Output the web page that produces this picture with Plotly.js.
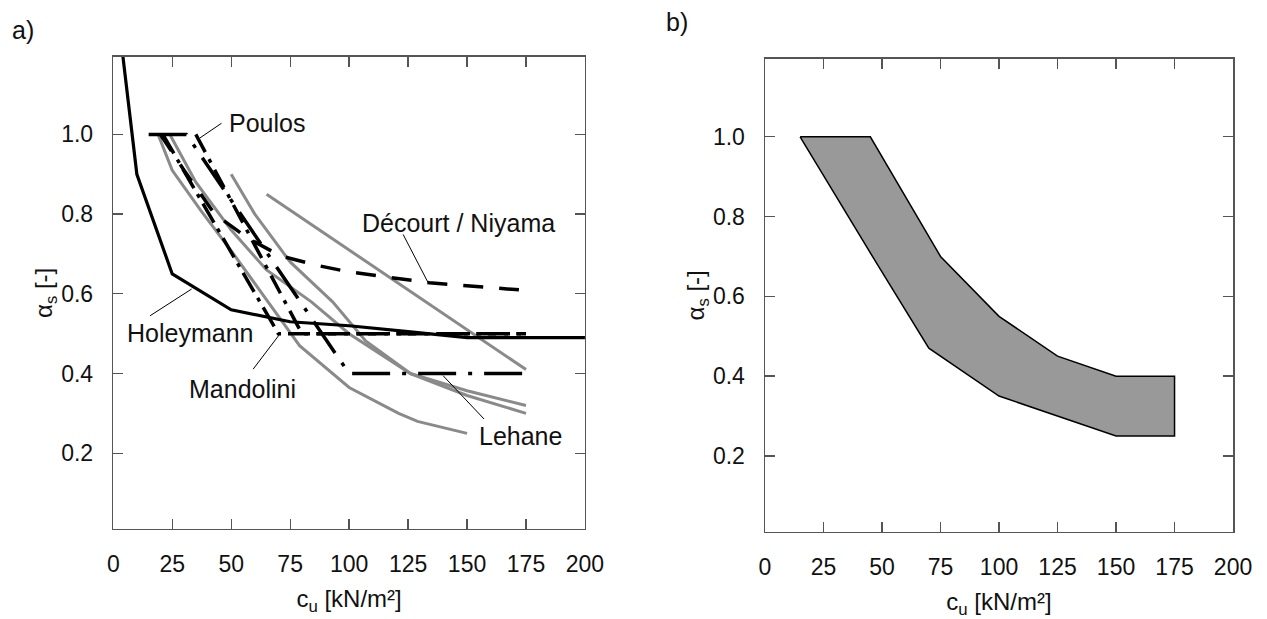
<!DOCTYPE html>
<html>
<head>
<meta charset="utf-8">
<script src="https://cdn.plot.ly/plotly-3.0.1.min.js"></script>
<style>
html,body{margin:0;padding:0;background:#fff;}
#chart{width:1267px;height:619px;}
</style>
</head>
<body>
<div id="chart"></div>
<script>
// ---------- Data (panel a) ----------
const holeymannX = [4, 10, 25, 50, 75, 100, 125, 150, 200];
const holeymannY = [1.2, 0.9, 0.65, 0.56, 0.53, 0.52, 0.505, 0.49, 0.49];

const decourtX = [20, 30, 43, 57, 71, 86, 100, 134, 172];
const decourtY = [1.0, 0.91, 0.80, 0.74, 0.695, 0.672, 0.655, 0.628, 0.61];

const mandoliniX = [21, 70, 175];
const mandoliniY = [1.0, 0.5, 0.5];

const poulosX = [35, 80, 175];
const poulosY = [1.0, 0.5, 0.5];

const lehaneX = [15, 31, 100, 175];
const lehaneY = [1.0, 1.0, 0.4, 0.4];

const gray1X = [19, 25, 37, 51, 65, 79, 100, 121, 129, 143, 150];
const gray1Y = [1.0, 0.91, 0.81, 0.70, 0.585, 0.47, 0.365, 0.30, 0.28, 0.26, 0.25];

const gray2X = [24, 35, 50, 65, 84, 100, 126, 150, 175];
const gray2Y = [1.0, 0.88, 0.76, 0.66, 0.58, 0.50, 0.40, 0.357, 0.32];

const gray3X = [50, 60, 75, 93, 107, 126, 150, 175];
const gray3Y = [0.9, 0.8, 0.68, 0.58, 0.482, 0.40, 0.345, 0.30];

const gray4X = [65, 175];
const gray4Y = [0.85, 0.41];

// ---------- Data (panel b): recommended band ----------
const bandUpperX = [15, 45, 75, 100, 125, 150, 175];
const bandUpperY = [1.0, 1.0, 0.70, 0.55, 0.45, 0.40, 0.40];
const bandLowerX = [15, 48, 70, 100, 125, 150, 175];
const bandLowerY = [1.0, 0.68, 0.47, 0.35, 0.30, 0.25, 0.25];

// ---------- Tick labels ----------
const xTickVals = [0, 25, 50, 75, 100, 125, 150, 175, 200];
const yTickVals = [0.2, 0.4, 0.6, 0.8, 1.0];
const yTickText = ['0.2', '0.4', '0.6', '0.8', '1.0'];

const FONT = 'Liberation Sans, Arial, sans-serif';
const GRAY = '#8a8a8a';

function line(x, y, color, width, dash, xa, ya, name) {
  return {x: x, y: y, type: 'scatter', mode: 'lines', name: name,
          xaxis: xa, yaxis: ya,
          line: {color: color, width: width, dash: dash}, hoverinfo: 'skip'};
}

const traces = [
  line(gray1X, gray1Y, GRAY, 3, 'solid', 'x', 'y', 'g1'),
  line(gray2X, gray2Y, GRAY, 3, 'solid', 'x', 'y', 'g2'),
  line(gray3X, gray3Y, GRAY, 3, 'solid', 'x', 'y', 'g3'),
  line(gray4X, gray4Y, GRAY, 3, 'solid', 'x', 'y', 'g4'),
  line(holeymannX, holeymannY, '#000', 3.2, 'solid', 'x', 'y', 'Holeymann'),
  line(decourtX, decourtY, '#000', 3.5, '20px,16px', 'x', 'y', 'Décourt / Niyama'),
  line(mandoliniX, mandoliniY, '#000', 3.5, '22px,7px,4px,7px', 'x', 'y', 'Mandolini'),
  line(poulosX, poulosY, '#000', 3.5, '20px,8px,4px,8px', 'x', 'y', 'Poulos'),
  line(lehaneX, lehaneY, '#000', 3.5, '38px,12px,4px,12px', 'x', 'y', 'Lehane'),
  {
    x: bandUpperX.concat(bandLowerX.slice().reverse()),
    y: bandUpperY.concat(bandLowerY.slice().reverse()),
    type: 'scatter', mode: 'lines', fill: 'toself', fillcolor: '#999999',
    line: {color: '#000', width: 1.5}, xaxis: 'x2', yaxis: 'y2', hoverinfo: 'skip'
  }
];

function xAxis(domain, anchor) {
  return {
    domain: domain, anchor: anchor, range: [0, 200],
    tickvals: xTickVals, ticks: 'inside', ticklen: 10, tickwidth: 1.3,
    tickcolor: '#555', showline: true, linecolor: '#555', linewidth: 1.5,
    mirror: 'allticks', showgrid: false, zeroline: false,
    tickfont: {family: FONT, size: 23, color: '#111'},
    ticklabelstandoff: 14,
    title: {text: 'c<sub>u</sub> [kN/m²]', font: {family: FONT, size: 24, color: '#111'}, standoff: 14}
  };
}
function yAxis(domain, anchor) {
  return {
    domain: domain, anchor: anchor, range: [0.01, 1.195],
    tickvals: yTickVals, ticktext: yTickText, ticks: 'inside', ticklen: 10, tickwidth: 1.3,
    tickcolor: '#555', showline: true, linecolor: '#555', linewidth: 1.5,
    mirror: 'allticks', showgrid: false, zeroline: false,
    tickfont: {family: FONT, size: 23, color: '#111'},
    ticklabelstandoff: 14,
    title: {text: 'α<sub>s</sub> [-]', font: {family: FONT, size: 24, color: '#111'}, standoff: 0}
  };
}

const txt = {family: FONT, size: 25, color: '#111'};
function label(text, x, y, xref, yref) {
  return {text: text, x: x, y: y, xref: xref, yref: yref, showarrow: false, font: txt,
          xanchor: 'center', yanchor: 'middle'};
}

const layout = {
  width: 1267, height: 619,
  margin: {l: 0, r: 0, t: 0, b: 0},
  paper_bgcolor: '#fff', plot_bgcolor: '#fff',
  showlegend: false,
  xaxis: xAxis([0.0894, 0.4617], 'y'),
  yaxis: yAxis([0.1454, 0.9084], 'x'),
  xaxis2: xAxis([0.6038, 0.9732], 'y2'),
  yaxis2: yAxis([0.141, 0.9047], 'x2'),
  annotations: [
    label('Poulos', 65.2, 1.028, 'x', 'y'),
    label('Décourt / Niyama', 146.2, 0.778, 'x', 'y'),
    label('Holeymann', 32.5, 0.502, 'x', 'y'),
    label('Mandolini', 54.7, 0.362, 'x', 'y'),
    label('Lehane', 172.7, 0.243, 'x', 'y'),
    {text: 'a)', x: 23 / 1267, y: 1 - 30 / 619, xref: 'paper', yref: 'paper', showarrow: false,
     font: txt, xanchor: 'center', yanchor: 'middle'},
    {text: 'b)', x: 677 / 1267, y: 1 - 22 / 619, xref: 'paper', yref: 'paper', showarrow: false,
     font: txt, xanchor: 'center', yanchor: 'middle'}
  ],
  shapes: [
    {type: 'line', xref: 'x', yref: 'y', x0: 45.9, y0: 1.028, x1: 36.7, y1: 0.991, line: {color: '#000', width: 1}},
    {type: 'line', xref: 'x', yref: 'y', x0: 122.9, y0: 0.749, x1: 133.5, y1: 0.628, line: {color: '#000', width: 1}},
    {type: 'line', xref: 'x', yref: 'y', x0: 15.6, y0: 0.545, x1: 33.2, y1: 0.612, line: {color: '#000', width: 1}},
    {type: 'line', xref: 'x', yref: 'y', x0: 59.3, y0: 0.411, x1: 70.6, y1: 0.499, line: {color: '#000', width: 1}},
    {type: 'line', xref: 'x', yref: 'y', x0: 157.2, y0: 0.286, x1: 139.8, y1: 0.395, line: {color: '#000', width: 1}}
  ]
};

Plotly.newPlot('chart', traces, layout, {staticPlot: true, displayModeBar: false});
</script>
</body>
</html>
